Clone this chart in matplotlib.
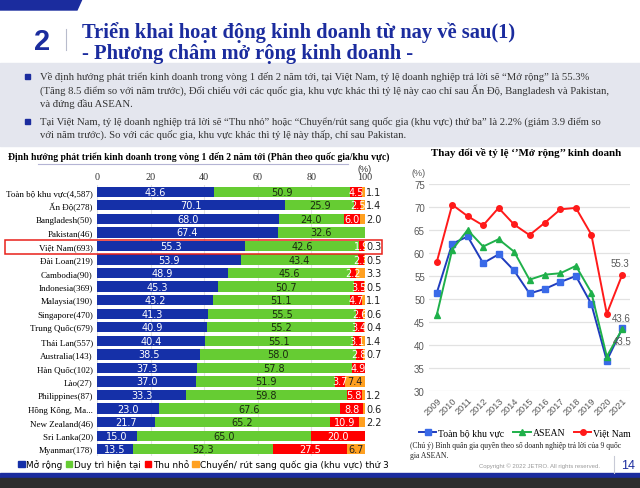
import matplotlib.pyplot as plt
from matplotlib.patches import Rectangle, Polygon
from matplotlib.lines import Line2D

# left chart data (%)
countries = [
    "Toàn bộ khu vực(4,587)", "Ấn Độ(278)", "Bangladesh(50)", "Pakistan(46)",
    "Việt Nam(693)", "Đài Loan(219)", "Cambodia(90)", "Indonesia(369)",
    "Malaysia(190)", "Singapore(470)", "Trung Quốc(679)", "Thái Lan(557)",
    "Australia(143)", "Hàn Quốc(102)", "Lào(27)", "Philippines(87)",
    "Hồng Kông, Ma...", "New Zealand(46)", "Sri Lanka(20)", "Myanmar(178)",
]
expand = [43.6, 70.1, 68.0, 67.4, 55.3, 53.9, 48.9, 45.3, 43.2, 41.3,
          40.9, 40.4, 38.5, 37.3, 37.0, 33.3, 23.0, 21.7, 15.0, 13.5]
maintain = [50.9, 25.9, 24.0, 32.6, 42.6, 43.4, 45.6, 50.7, 51.1, 55.5,
            55.2, 55.1, 58.0, 57.8, 51.9, 59.8, 67.6, 65.2, 65.0, 52.3]
shrink = [4.5, 2.5, 6.0, 0.0, 1.9, 2.3, 2.2, 3.5, 4.7, 2.6,
          3.4, 3.1, 2.8, 4.9, 3.7, 5.8, 8.8, 10.9, 20.0, 27.5]
relocate = [1.1, 1.4, 2.0, 0.0, 0.3, 0.5, 3.3, 0.5, 1.1, 0.6,
            0.4, 1.4, 0.7, 0.0, 7.4, 1.2, 0.6, 2.2, 0.0, 6.7]
series_names = ["Mở rộng", "Duy trì hiện tại", "Thu nhỏ",
                "Chuyển/ rút sang quốc gia (khu vực) thứ 3"]
bar_ticks = [0, 20, 40, 60, 80, 100]

# right chart data (%)
years = [2009, 2010, 2011, 2012, 2013, 2014, 2015, 2016, 2017, 2018, 2019, 2020, 2021]
all_region = [51.3, 62.0, 63.6, 57.8, 59.7, 56.2, 51.2, 52.2, 53.7, 55.0, 48.9, 36.6, 43.6]
asean = [46.5, 60.7, 65.0, 61.4, 63.0, 60.3, 54.2, 55.3, 55.6, 57.2, 51.4, 37.5, 43.5]
vietnam = [58.0, 70.5, 68.0, 66.0, 69.8, 66.2, 63.9, 66.6, 69.5, 69.8, 64.0, 46.8, 55.3]

W, H = 640, 489
NAVY = "#1b2c9e"
SERIF = "Liberation Serif"
SANS = "Liberation Sans"


def fx(x):
    return x / W


def fy(y):
    return 1 - y / H


fig = plt.figure(figsize=(6.4, 4.89), dpi=100)

# ---- slide decoration ----
fig.patches.append(Polygon([(0, fy(0)), (fx(82), fy(0)), (fx(77), fy(11)), (0, fy(11))],
                           closed=True, color=NAVY, transform=fig.transFigure))
fig.patches.append(Rectangle((0, fy(147)), 1, (147 - 64) / H, color="#e4e6ee",
                             transform=fig.transFigure, zorder=0))
fig.patches.append(Rectangle((0, fy(479)), 1, 5 / H, color=NAVY, transform=fig.transFigure))
fig.patches.append(Rectangle((0, 0), 1, 10 / H, color="#2d2d2d", transform=fig.transFigure))
fig.lines.append(Line2D([fx(66), fx(66)], [fy(30), fy(51)], color="#b8bccc", lw=0.8,
                        transform=fig.transFigure))
fig.lines.append(Line2D([fx(614), fx(614)], [fy(457), fy(474)], color="#c8cad6", lw=0.8,
                        transform=fig.transFigure))

fig.text(fx(42), fy(42), "2", fontsize=21, fontweight="bold", color=NAVY,
         family=SANS, ha="center", va="center")
fig.text(fx(82), fy(33), "Triển khai hoạt động kinh doanh từ nay về sau(1)", fontsize=14.8,
         fontweight="bold", color=NAVY, family=SERIF, va="center")
fig.text(fx(82), fy(54), "- Phương châm mở rộng kinh doanh -", fontsize=14.8,
         fontweight="bold", color=NAVY, family=SERIF, va="center")

bullets = [
    (77, "Về định hướng phát triển kinh doanh trong vòng 1 đến 2 năm tới, tại Việt Nam, tỷ lệ doanh nghiệp trả lời sẽ “Mở rộng” là 55.3%", True),
    (90, "(Tăng 8.5 điểm so với năm trước), Đối chiếu với các quốc gia, khu vực khác thì tỷ lệ này cao chỉ sau Ấn Độ, Bangladesh và Pakistan,", False),
    (104, "và đứng đầu ASEAN.", False),
    (122, "Tại Việt Nam, tỷ lệ doanh nghiệp trả lời sẽ “Thu nhỏ” hoặc “Chuyển/rút sang quốc gia (khu vực) thứ ba” là 2.2% (giảm 3.9 điểm so", True),
    (135, "với năm trước). So với các quốc gia, khu vực khác thì tỷ lệ này thấp, chỉ sau Pakistan.", False),
]
for y, line, mark in bullets:
    if mark:
        fig.patches.append(Rectangle((fx(25), fy(y + 2.5)), 5 / W, 5 / H, color=NAVY,
                                     transform=fig.transFigure))
    fig.text(fx(40), fy(y), line, fontsize=7.7, family=SERIF, color="#333333", va="center")

# ---- left: stacked bars ----
ax = fig.add_axes([fx(97), fy(457), (365 - 97) / W, (457 - 186) / H])
colors = ["#1530a8", "#66cc33", "#ff0000", "#ffa020"]
text_colors = ["white", "#1a2a10", "white", "#222222"]
rows = range(len(countries))
left = [0.0] * len(countries)
for values, color, tcolor in zip([expand, maintain, shrink, relocate], colors, text_colors):
    bars = ax.barh(rows, values, left=left, height=0.76, color=color, zorder=2)
    for i, (b, v) in enumerate(zip(bars, values)):
        if v <= 0:
            continue
        if color == colors[3] and v < 5:
            ax.text(100.5, i, f"{v:.1f}", ha="left", va="center", fontsize=7,
                    color="#222222", family="DejaVu Sans")
        else:
            ax.text(left[i] + v / 2, i, f"{v:.1f}", ha="center", va="center", fontsize=7,
                    color=tcolor, family="DejaVu Sans", zorder=3)
    left = [a + b for a, b in zip(left, values)]

ax.set_xlim(0, 100)
ax.set_ylim(len(countries) - 0.5, -0.5)
ax.set_yticks(list(rows))
ax.set_yticklabels(countries, family=SERIF, fontsize=6.5)
ax.set_xticks(bar_ticks)
ax.xaxis.tick_top()
ax.tick_params(axis="x", length=0, pad=3, labelsize=7.3, labelcolor="#333333")
for lab in ax.get_xticklabels():
    lab.set_family(SERIF)
ax.tick_params(axis="y", length=0, pad=3)
ax.grid(axis="x", color="#e2e2e2", lw=0.8, zorder=0)
for s in ax.spines.values():
    s.set_visible(False)
ax.text(100, -1.55, "(%)", fontsize=6.5, ha="center", color="#333333", family=SANS)

fig.text(fx(8), fy(157), "Định hướng phát triển kinh doanh trong vòng 1 đến 2 năm tới (Phân theo quốc gia/khu vực)",
         fontsize=6.9, fontweight="bold", family=SERIF, va="center")
fig.lines.append(Line2D([fx(38), fx(348)], [fy(165), fy(165)], color="#b4b4d4", lw=0.8,
                        transform=fig.transFigure))
fig.patches.append(Rectangle((fx(5), fy(255)), 377 / W, 14 / H, fill=False, edgecolor="#e8201a",
                             lw=1.1, transform=fig.transFigure, zorder=5))

handles = [Rectangle((0, 0), 1, 1, color=c) for c in colors]
fig.legend(handles, series_names, loc="center left", bbox_to_anchor=(fx(14), fy(465)),
           ncol=4, frameon=False, handlelength=0.7, handleheight=0.7,
           handletextpad=0.2, columnspacing=0.4, borderpad=0, prop={"family": "DejaVu Sans", "size": 6.4})

# ---- right: line chart ----
ax2 = fig.add_axes([fx(429), fy(392), (630 - 429) / W, (392 - 185) / H])
ax2.plot(years, all_region, color="#1f3cbd", marker="s", ms=4, mfc="#3a6ae8", mec="#3a6ae8",
         lw=1.4, label="Toàn bộ khu vực", zorder=3)
ax2.plot(years, asean, color="#1fb04a", marker="^", ms=4, lw=1.4, label="ASEAN", zorder=3)
ax2.plot(years, vietnam, color="#ff1a1a", marker="o", ms=4, lw=1.4, label="Việt Nam", zorder=3)
ax2.set_xlim(years[0] - 0.5, years[-1] + 0.5)
ax2.set_ylim(30, 75)
ax2.set_yticks(range(30, 80, 5))
ax2.set_xticks(years)
ax2.set_xticklabels([str(y) for y in years], rotation=45, ha="right", rotation_mode="anchor")
ax2.tick_params(axis="y", length=0, labelsize=7, labelcolor="#595959", pad=3)
ax2.tick_params(axis="x", length=0, labelsize=6.6, labelcolor="#595959", pad=3)
for lab in ax2.get_xticklabels() + ax2.get_yticklabels():
    lab.set_family(SANS)
ax2.grid(axis="y", color="#e2e2e2", lw=0.9, zorder=0)
for s in ax2.spines.values():
    s.set_visible(False)
ax2.annotate(f"{vietnam[-1]:.1f}", (years[-1], vietnam[-1]), xytext=(-2, 6), textcoords="offset points",
             ha="center", fontsize=7, color="#595959", family=SANS)
ax2.annotate(f"{all_region[-1]:.1f}", (years[-1], all_region[-1]), xytext=(-1, 5), textcoords="offset points",
             ha="center", fontsize=7, color="#595959", family=SANS)
ax2.annotate(f"{asean[-1]:.1f}", (years[-1], asean[-1]), xytext=(0, -11), textcoords="offset points",
             ha="center", fontsize=7, color="#595959", family=SANS)
fig.text(fx(412), fy(173), "(%)", fontsize=6.5, color="#595959", family=SANS, va="center")
fig.text(fx(526), fy(153), "Thay đổi về tỷ lệ ‘’Mở rộng’’ kinh doanh", fontsize=7.9,
         fontweight="bold", family=SERIF, ha="center", va="center")

fig.legend(*ax2.get_legend_handles_labels(), loc="center", bbox_to_anchor=(fx(525), fy(434)),
           ncol=3, frameon=False, handlelength=1.8, handletextpad=0.2, columnspacing=0.9,
           borderpad=0, prop={"family": SERIF, "size": 7.0})
fig.text(fx(410), fy(446), "(Chú ý) Bình quân gia quyền theo số doanh nghiệp trả lời của 9 quốc",
         fontsize=5.5, family=SERIF, va="center", color="#222222")
fig.text(fx(410), fy(456), "gia ASEAN.", fontsize=5.5, family=SERIF, va="center", color="#222222")
fig.text(fx(600), fy(466), "Copyright © 2022 JETRO. All rights reserved.", fontsize=4.3,
         family=SANS, color="#9a9a9a", ha="right", va="center")
fig.text(fx(628), fy(466), "14", fontsize=9, family=SANS, color=NAVY, ha="center", va="center")

fig.savefig("out.png", dpi=100)
